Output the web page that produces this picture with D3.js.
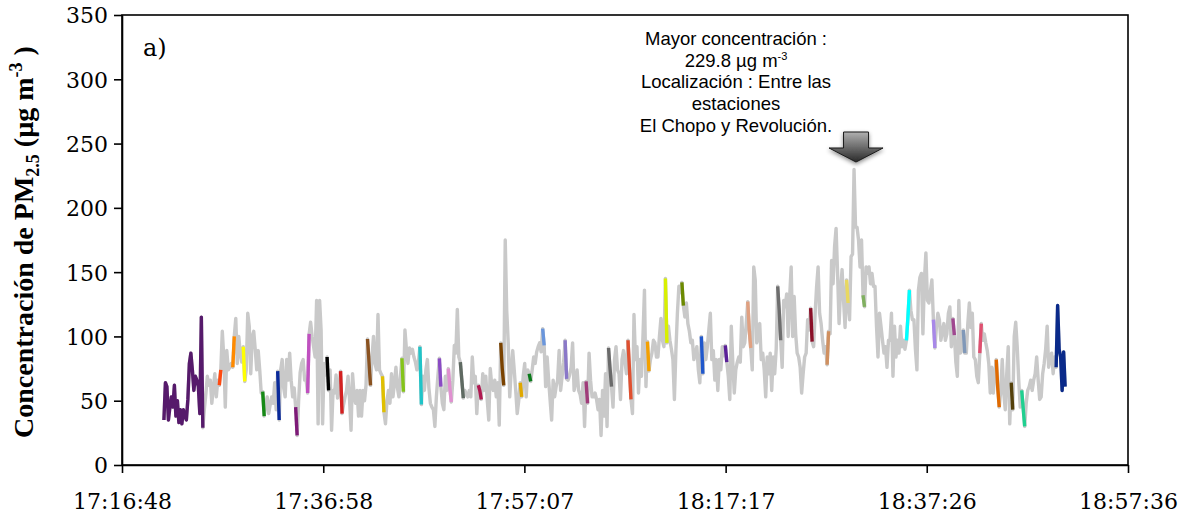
<!DOCTYPE html>
<html>
<head>
<meta charset="utf-8">
<script src="https://cdn.jsdelivr.net/npm/d3@7"></script>
<style>
  body { margin: 0; background: #ffffff; }
  svg { display: block; }
</style>
</head>
<body>
<svg id="chart" width="1189" height="516"></svg>
<script>
// Time axis labels (hh:mm:ss) and concentration ticks
const tickLabels = ["17:16:48", "17:36:58", "17:57:07", "18:17:17", "18:37:26", "18:57:36"];
const yTicks = [0, 50, 100, 150, 200, 250, 300, 350];

// PM2.5 record along the route, one reading every 9 s from 17:21:00
const seriesStart = "17:21:00";
const stepSeconds = 9;
const pm25 = [
  35, 64, 61, 35, 45, 53, 45, 62, 38, 50, 33, 43, 32, 43, 38, 35, 51, 79, 87, 74,
  58, 69, 66, 61, 40, 115, 29, 43, 55, 69, 62, 66, 48, 60, 71, 53, 66, 62, 74, 104,
  84, 45, 89, 74, 76, 79, 76, 100, 114, 79, 100, 87, 80, 92, 65, 74, 118, 108, 71, 100,
  104, 90, 74, 89, 74, 56, 57, 38, 48, 53, 40, 47, 53, 48, 64, 43, 73, 35, 74, 82,
  60, 53, 82, 66, 87, 66, 53, 60, 45, 23, 50, 72, 79, 82, 66, 66, 56, 102, 111, 100,
  92, 84, 128, 32, 128, 105, 32, 79, 70, 84, 58, 74, 27, 58, 56, 70, 52, 62, 73, 40,
  47, 53, 58, 69, 51, 27, 71, 55, 48, 58, 38, 58, 38, 58, 50, 62, 98, 80, 62, 84,
  100, 79, 74, 117, 74, 71, 69, 41, 32, 50, 58, 48, 71, 53, 64, 76, 60, 53, 69, 83,
  57, 105, 90, 79, 91, 87, 90, 84, 80, 74, 80, 92, 47, 69, 58, 74, 82, 60, 48, 45,
  43, 30, 53, 69, 83, 61, 48, 43, 69, 58, 75, 60, 49, 66, 93, 87, 121, 84, 80, 66,
  52, 58, 55, 53, 58, 53, 84, 64, 69, 40, 62, 58, 51, 71, 58, 69, 50, 35, 75, 62,
  58, 66, 53, 64, 31, 95, 75, 62, 175, 120, 95, 53, 74, 89, 74, 58, 40, 50, 64, 53,
  69, 79, 53, 74, 71, 65, 74, 84, 79, 88, 92, 95, 88, 106, 93, 61, 84, 66, 50, 35,
  66, 53, 61, 66, 89, 58, 69, 80, 97, 67, 66, 70, 76, 95, 58, 64, 74, 58, 55, 48,
  64, 30, 65, 48, 87, 66, 53, 53, 56, 51, 43, 51, 23, 58, 38, 71, 30, 91, 75, 61,
  45, 82, 92, 74, 71, 51, 82, 89, 80, 71, 97, 74, 51, 40, 117, 82, 92, 56, 82, 69,
  100, 136, 61, 96, 73, 82, 87, 97, 95, 84, 84, 100, 114, 97, 92, 145, 95, 108, 97, 90,
  82, 51, 89, 118, 139, 134, 142, 124, 115, 126, 110, 104, 95, 97, 82, 87, 92, 74, 64, 100,
  71, 95, 82, 92, 105, 118, 82, 89, 66, 82, 58, 82, 74, 92, 85, 93, 80, 69, 51, 108,
  80, 56, 74, 80, 84, 80, 115, 92, 95, 110, 127, 105, 91, 74, 154, 144, 95, 100, 110, 82,
  87, 74, 53, 84, 71, 87, 58, 84, 71, 90, 139, 120, 97, 76, 128, 123, 133, 100, 131, 154,
  100, 131, 102, 87, 84, 76, 56, 71, 84, 87, 113, 105, 122, 96, 92, 118, 139, 154, 118, 110,
  97, 87, 92, 78, 104, 102, 159, 141, 170, 184, 149, 110, 136, 152, 128, 107, 144, 126, 113, 162,
  164, 229.8, 185, 185, 175, 154, 175, 132, 123, 154, 149, 154, 141, 149, 139, 139, 108, 84, 118, 108,
  97, 87, 92, 76, 97, 97, 118, 69, 108, 84, 97, 87, 108, 92, 97, 90, 97, 115, 136, 120,
  113, 113, 90, 74, 136, 146, 149, 102, 144, 165, 128, 126, 135, 144, 113, 91, 107, 118, 113, 97,
  104, 110, 97, 102, 118, 123, 92, 114, 101, 80, 69, 128, 87, 89, 105, 87, 87, 110, 126, 107,
  118, 84, 82, 69, 64, 87, 110, 97, 102, 95, 89, 79, 56, 76, 56, 71, 82, 60, 45, 58,
  82, 56, 43, 71, 92, 32, 64, 43, 100, 111, 92, 66, 45, 58, 44, 30, 48, 58, 61, 66,
  58, 66, 71, 84, 66, 51, 53, 71, 79, 90, 108, 76, 84, 87, 71, 84, 76, 124, 90, 84,
  58, 88, 61
];

// Stretches of the record taken next to each station (first and last reading index)
const segmentRanges = [
  [0, 26], [37, 38], [46, 47], [53, 54], [66, 67], [76, 77], [88, 89], [96, 97], [109, 110], [118, 119],
  [136, 138], [146, 147], [159, 160], [171, 172], [184, 185], [190, 192], [198, 200], [210, 212], [225, 227], [238, 239],
  [244, 245], [253, 254], [268, 269], [282, 283], [297, 299], [310, 312], [323, 324], [335, 336], [346, 347], [359, 360],
  [375, 376], [390, 392], [410, 412], [432, 433], [443, 444], [456, 457], [467, 468], [496, 498], [514, 515], [527, 528],
  [534, 535], [545, 546], [556, 558], [566, 567], [573, 575], [596, 602]
];
const segmentColors = [
  "#561a6b", "#ff4a10", "#ff8a00", "#ffff00", "#168a16", "#0a2a9a", "#7e1a78", "#c050c0", "#000000", "#d42020",
  "#8a5220", "#e0c000", "#84c41a", "#20c4c8", "#8a4ac4", "#e090d0", "#5f6a62", "#b01850", "#7a4200", "#e0a800",
  "#0a7a1a", "#6a96dc", "#8a78c8", "#a03c7a", "#6a6a6a", "#e05030", "#f4a000", "#d8f000", "#6c8a00", "#2058cc",
  "#5a2098", "#e0a080", "#6e6e6e", "#8a1028", "#d09060", "#e8d860", "#80b060", "#00ffff", "#a888e8", "#a04890",
  "#8098b8", "#e05070", "#e06a00", "#54400a", "#20d090", "#0a2a8a"
];

const peakValue = 229.8;
const noteLines = [
  "Mayor concentración :",
  "229.8 µg m",
  "Localización : Entre las",
  "estaciones",
  "El Chopo y Revolución."
];

// ---- layout
const svg = d3.select("#chart");
const plotLeft = 122, plotRight = 1128, plotTop = 15, plotBottom = 465;

const toSec = s => { const p = s.split(":").map(Number); return p[0] * 3600 + p[1] * 60 + p[2]; };
const t0 = toSec(seriesStart);
const points = pm25.map((v, i) => ({ t: t0 + i * stepSeconds, v }));

const x = d3.scaleLinear()
  .domain([toSec(tickLabels[0]), toSec(tickLabels[tickLabels.length - 1])])
  .range([plotLeft, plotRight]);
const y = d3.scaleLinear().domain([0, 350]).range([plotBottom, plotTop]);

const line = d3.line().x(d => x(d.t)).y(d => y(d.v));

// full record in grey
svg.append("path")
  .datum(points)
  .attr("fill", "none")
  .attr("stroke", "#c9c9c9")
  .attr("stroke-width", 3.4)
  .attr("stroke-linejoin", "round")
  .attr("d", line);

// station stretches on top
segmentRanges.forEach((r, k) => {
  svg.append("path")
    .datum(points.slice(r[0], r[1] + 1))
    .attr("fill", "none")
    .attr("stroke", segmentColors[k])
    .attr("stroke-width", 3.4)
    .attr("stroke-linejoin", "round")
    .attr("d", line);
});

// plot frame
svg.append("rect")
  .attr("x", plotLeft).attr("y", plotTop)
  .attr("width", plotRight - plotLeft).attr("height", plotBottom - plotTop)
  .attr("fill", "none").attr("stroke", "#000").attr("stroke-width", 1.6);

// axes
const serif = "'DejaVu Serif', serif";
const xAxis = d3.axisBottom(x)
  .tickValues(tickLabels.map(toSec))
  .tickFormat((d, i) => tickLabels[i])
  .tickSize(8).tickSizeOuter(0);
const gx = svg.append("g").attr("transform", `translate(0,${plotBottom})`).call(xAxis);
gx.select(".domain").attr("stroke-width", 1.6);
gx.selectAll(".tick line").attr("stroke-width", 1.6);
gx.selectAll(".tick text")
  .attr("y", 28).attr("dy", "0.71em")
  .style("font-family", serif).style("font-size", "22px").attr("fill", "#000");

const yAxis = d3.axisLeft(y).tickValues(yTicks).tickSize(8).tickSizeOuter(0);
const gy = svg.append("g").attr("transform", `translate(${plotLeft},0)`).call(yAxis);
gy.select(".domain").attr("stroke-width", 1.6);
gy.selectAll(".tick line").attr("stroke-width", 1.6);
gy.selectAll(".tick text")
  .attr("x", -14).attr("dy", "0.36em")
  .style("font-family", serif).style("font-size", "22px").attr("fill", "#000");

// y axis title
const yt = svg.append("text")
  .attr("transform", "translate(33,242) rotate(-90)")
  .attr("text-anchor", "middle")
  .style("font-family", "'Liberation Serif', serif")
  .style("font-weight", "bold")
  .style("font-size", "28px")
  .attr("fill", "#000");
yt.append("tspan").text("Concentración de PM");
yt.append("tspan").attr("dy", "6").style("font-size", "18px").text("2.5");
yt.append("tspan").attr("dy", "-6").text(" (µg m");
yt.append("tspan").attr("dy", "-11").style("font-size", "18px").text("-3");
yt.append("tspan").attr("dy", "11").text(" )");

// panel letter
svg.append("text")
  .attr("x", 143).attr("y", 56)
  .style("font-family", serif).style("font-size", "24px")
  .attr("fill", "#000").text("a)");

// note above the maximum
const sans = "'Liberation Sans', Arial, sans-serif";
const noteX = 736;
const noteY = [45, 67, 88, 110, 132];
noteLines.forEach((s, i) => {
  const t = svg.append("text")
    .attr("x", noteX).attr("y", noteY[i])
    .attr("text-anchor", "middle")
    .style("font-family", sans).style("font-size", "18.5px")
    .attr("fill", "#000");
  t.append("tspan").text(s);
  if (i === 1) t.append("tspan").attr("dy", "-7").style("font-size", "11px").text("-3");
});

// arrow pointing at the maximum reading
const peakIndex = pm25.indexOf(peakValue);
const ax = x(points[peakIndex].t) + 2;
const defs = svg.append("defs");
const grad = defs.append("linearGradient").attr("id", "arrowFill")
  .attr("x1", 0).attr("y1", 0).attr("x2", 0).attr("y2", 1);
grad.append("stop").attr("offset", "0%").attr("stop-color", "#b0b0b0");
grad.append("stop").attr("offset", "100%").attr("stop-color", "#2a2a2a");
const shadow = defs.append("filter").attr("id", "arrowShadow")
  .attr("x", "-30%").attr("y", "-30%").attr("width", "160%").attr("height", "160%");
shadow.append("feDropShadow").attr("dx", 0).attr("dy", 2).attr("stdDeviation", 2)
  .attr("flood-color", "#000").attr("flood-opacity", 0.45);
const arrowPts = [
  [ax - 12.5, 132], [ax + 12.5, 132], [ax + 12.5, 148], [ax + 27, 148],
  [ax, 162], [ax - 27, 148], [ax - 12.5, 148]
];
svg.append("polygon")
  .attr("points", arrowPts.map(p => p.join(",")).join(" "))
  .attr("fill", "url(#arrowFill)")
  .attr("stroke", "#1a1a1a").attr("stroke-width", 1)
  .attr("filter", "url(#arrowShadow)");
</script>
</body>
</html>
